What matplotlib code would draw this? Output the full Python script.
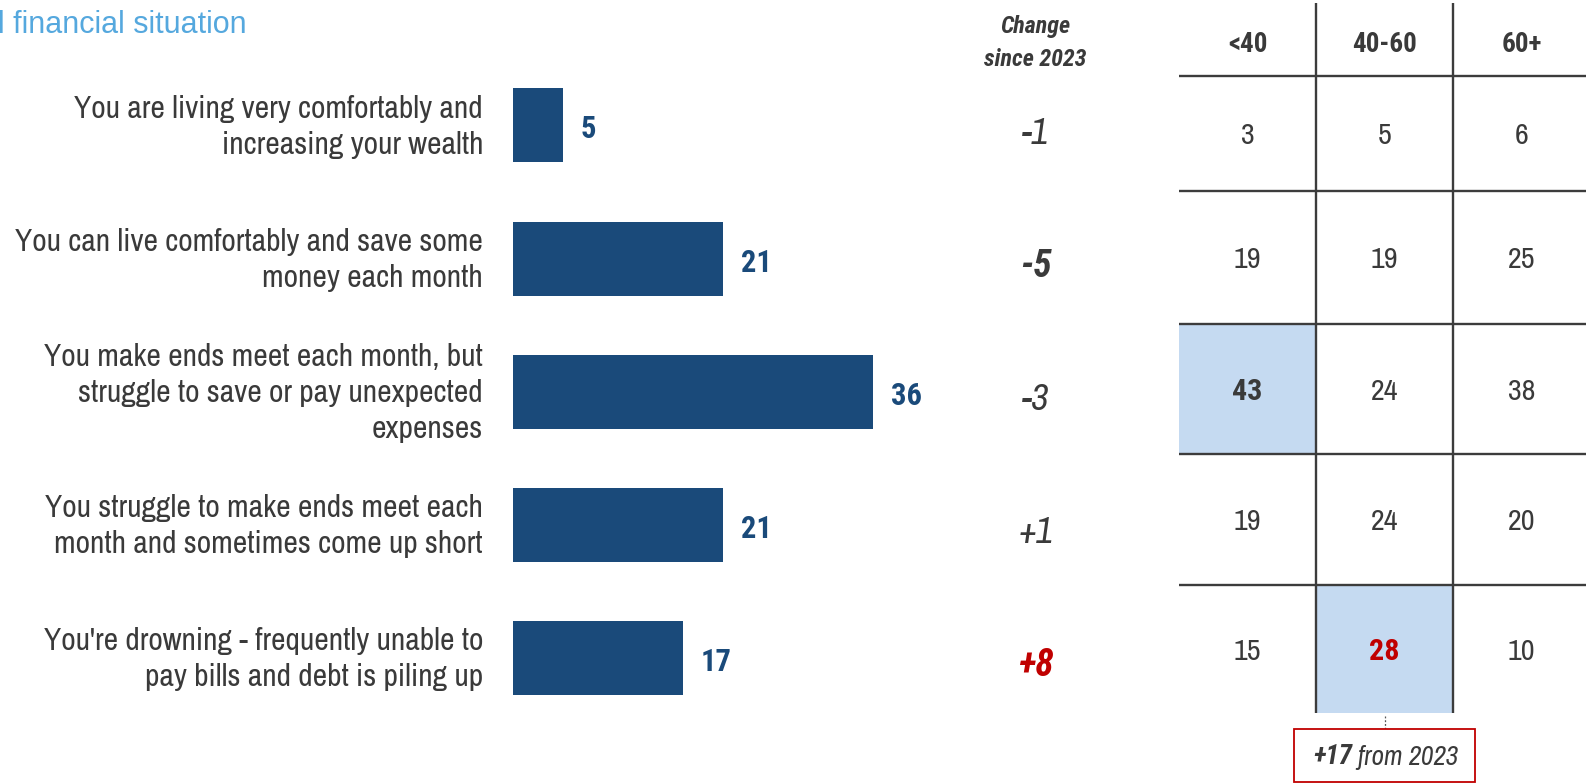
import matplotlib
matplotlib.use("Agg")
import matplotlib.pyplot as plt
from matplotlib import font_manager as fm
from matplotlib.patches import Rectangle

# ---------------- data ----------------
title = "l financial situation"
categories = [
    "You are living very comfortably and\nincreasing your wealth",
    "You can live comfortably and save some\nmoney each month",
    "You make ends meet each month, but\nstruggle to save or pay unexpected\nexpenses",
    "You struggle to make ends meet each\nmonth and sometimes come up short",
    "You're drowning - frequently unable to\npay bills and debt is piling up",
]
totals = [5, 21, 36, 21, 17]
change_header = "Change\nsince 2023"
changes = ["-1", "-5", "-3", "+1", "+8"]
change_bold = [False, True, False, False, True]
change_red = [False, False, False, False, True]
age_groups = ["<40", "40-60", "60+"]
age_values = [
    [3, 5, 6],
    [19, 19, 25],
    [43, 24, 38],
    [19, 24, 20],
    [15, 28, 10],
]
highlight_cells = [(2, 0), (4, 1)]
highlight_bold = [(2, 0), (4, 1)]
highlight_red = [(4, 1)]
callout_bold = "+17"
callout_rest = " from 2023"
callout_cell = (4, 1)

# ---------------- fonts ----------------
CANDIDATES = ["Liberation Sans Narrow", "Arial Narrow", "Archivo Narrow",
              "Roboto Condensed", "Pragati Narrow", "IBM Plex Sans Condensed",
              "PT Sans Narrow", "Fira Sans Condensed", "Barlow Condensed",
              "Encode Sans Condensed", "Asap Condensed"]


def _w(f):
    w = f.weight
    if isinstance(w, (int, float)):
        return w
    return fm.weight_dict.get(str(w), 400)


def has_style(name, bold, italic):
    for f in fm.fontManager.ttflist:
        if f.name != name:
            continue
        it = f.style in ("italic", "oblique")
        if it == italic and ((_w(f) >= 600) == bold) and (bold or _w(f) <= 500):
            return True
    return False


FONTS = {}
for b in (False, True):
    for i in (False, True):
        fam = None
        for name in CANDIDATES:
            if has_style(name, b, i):
                fam = name
                break
        FONTS[(b, i)] = ([fam] if fam else []) + ["Liberation Sans", "DejaVu Sans"]


def fp(bold=False, italic=False):
    return dict(family=FONTS[(bold, italic)], fontweight="bold" if bold else "normal",
                style="italic" if italic else "normal")


RF = ["Liberation Sans", "DejaVu Sans"]

# ---------------- layout ----------------
W, H, DPI = 1586, 783, 100
ROW0, ROWH = 125.5, 133.1
BAR_X0, UNIT = 513, 10
TX0, CW = 1179, 137
TEDGES = [76, 191, 324, 454, 585, 713]
VTOP = 3
CHANGE_X = 1036
DARK = "#3A3A3A"
BLUE = "#1A4A7A"
RED = "#C00000"
LIGHT = "#C5DAF1"
GRID = "#3C3C3C"

fig = plt.figure(figsize=(W / DPI, H / DPI), dpi=DPI)
fig.patch.set_facecolor("white")

ax = fig.add_axes([0, 0, 1, 1])
ax.set_xlim(0, W)
ax.set_ylim(H, 0)
ax.axis("off")

axb = fig.add_axes([BAR_X0 / W, 1 - (ROW0 + 4.5 * ROWH) / H, 40 * UNIT / W, 5 * ROWH / H])
axb.set_xlim(0, 40)
axb.set_ylim(4.5, -0.5)
axb.axis("off")

rows = list(range(len(categories)))
axb.barh(rows, totals, height=74 / ROWH, color=BLUE, edgecolor="none")
for r, (cat, v) in enumerate(zip(categories, totals)):
    axb.text(-3.0, r + 0.01, cat, ha="right", va="center", fontsize=22.8,
             color=DARK, linespacing=1.36, **fp())
    axb.text(v + 1.8, r + 0.03, str(v), ha="left", va="center", fontsize=22,
             color=BLUE, **fp(bold=True))

# title
ax.text(-2, 33, title, ha="left", va="baseline", fontsize=22, color="#55A8DE", family=RF)

# change column
ax.text(CHANGE_X - 1, 43, change_header, ha="center", va="center", fontsize=17.3,
        color=DARK, linespacing=1.6, **fp(bold=True, italic=True))
for r, (c, b, red) in enumerate(zip(changes, change_bold, change_red)):
    ax.text(CHANGE_X, ROW0 + r * ROWH + 8, c, ha="center", va="center",
            fontsize=27, color=RED if red else DARK, **fp(bold=b, italic=True))

# table highlights
for (r, c) in highlight_cells:
    ax.add_patch(Rectangle((TX0 + c * CW, TEDGES[r]), CW, TEDGES[r + 1] - TEDGES[r],
                           facecolor=LIGHT, edgecolor="none", zorder=1))

# table grid
for c in range(1, len(age_groups)):
    ax.plot([TX0 + c * CW] * 2, [VTOP, TEDGES[-1]], color=GRID, lw=1.7, zorder=3,
            solid_capstyle="butt")
for y in TEDGES[:-1]:
    ax.plot([TX0, W], [y, y], color=GRID, lw=1.7, zorder=3, solid_capstyle="butt")

# table headers
for c, g in enumerate(age_groups):
    ax.text(TX0 + (c + 0.5) * CW, 44.5, g, ha="center", va="center", fontsize=19.5,
            color=DARK, **fp(bold=True))

# table values
for r, rowvals in enumerate(age_values):
    yc = (TEDGES[r] + TEDGES[r + 1]) / 2 + 2.5
    for c, v in enumerate(rowvals):
        ax.text(TX0 + (c + 0.5) * CW, yc, str(v), ha="center", va="center",
                fontsize=21.6, zorder=4,
                color=RED if (r, c) in highlight_red else DARK,
                **fp(bold=(r, c) in highlight_bold))

# callout
cr, cc = callout_cell
cx = TX0 + (cc + 0.5) * CW
ax.plot([cx, cx], [716, 729], color="#555555", lw=0.9, ls=(0, (1.5, 1.5)))
ax.add_patch(Rectangle((1294, 729), 181, 53, facecolor="white", edgecolor=RED,
                       lw=1.3, clip_on=False, zorder=5))
t1 = ax.text(1313, 757, callout_bold, ha="left", va="center", fontsize=19.5,
             color=DARK, zorder=6, **fp(bold=True, italic=True))
ax.annotate(callout_rest, xy=(1, 0), xycoords=t1, ha="left", va="bottom",
            fontsize=19.5, color=DARK, zorder=6, **fp(italic=True))

fig.savefig("out.png", dpi=DPI, facecolor="white")
